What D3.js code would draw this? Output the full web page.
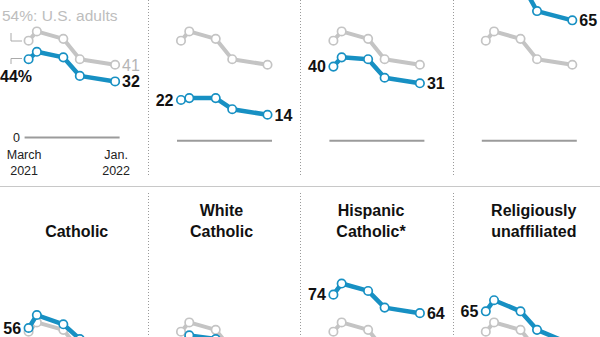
<!DOCTYPE html>
<html><head><meta charset="utf-8">
<script src="https://cdn.jsdelivr.net/npm/d3@7"></script>
<style>
body{margin:0;background:#fff;}
svg{display:block;font-family:"Liberation Sans",Arial,sans-serif;}
</style>
</head><body>
<svg id="chart" width="600" height="337"></svg>
<script>
// ---- data ----
const surveyDates = ["2021-03-05", "2021-04-04", "2021-07-09", "2021-09-07", "2022-01-13"];
const usAdults = [54, 59, 55, 44, 41];
const topSeries = [
  [44, 48, 45, 35, 32],
  [22, 23, 23, 17, 14],
  [40, 45, 44, 34, 31],
  [84, 88, 86, 70, 65]
];
const bottomTitles = [["Catholic"], ["White", "Catholic"], ["Hispanic", "Catholic*"], ["Religiously", "unaffiliated"]];
const bottomSeries = [
  [56, 63, 58, 50, 45],
  [48, 52, 50, 42, 37],
  [74, 80, 76, 67, 64],
  [65, 71, 65, 55, 47]
];
const xTickLabels = [["March", "2021"], ["Jan.", "2022"]];
const usLabel = "54%: U.S. adults";

// ---- layout ----
const W = 600, H = 337;
const BLUE = "#1790c3", GRAY = "#c4c4c4";
const colStep = 152.4, plotLeft = 28.6, plotSpan = 86.5;
const rowZero = [140.7, 431.7];
const pxPer100 = 185.2;
const titleCenters = [76.7, 221.5, 371, 533.8];

const svg = d3.select("#chart");
const parse = d3.timeParse("%Y-%m-%d");
const dates = surveyDates.map(parse);

// separators
svg.append("line").attr("x1", 0).attr("x2", W).attr("y1", 186.5).attr("y2", 186.5)
  .attr("stroke", "#c8c8c8").attr("stroke-width", 1);
for (let c = 0; c < 3; c++) {
  const sx = Math.round(plotLeft + c * colStep + 119.3) + 0.5;
  svg.append("line").attr("x1", sx).attr("x2", sx).attr("y1", 0).attr("y2", 176)
    .attr("stroke", "#9a9a9a").attr("stroke-width", 1).attr("stroke-dasharray", "1,2");
  svg.append("line").attr("x1", sx).attr("x2", sx).attr("y1", 193).attr("y2", H)
    .attr("stroke", "#9a9a9a").attr("stroke-width", 1).attr("stroke-dasharray", "1,2");
}

const visible = yy => yy > 8 && yy < H - 8;

function drawPanel(row, col, values, opts) {
  const L = plotLeft + col * colStep;
  const x = d3.scaleTime().domain([dates[0], dates[dates.length - 1]]).range([L, L + plotSpan]);
  const y = d3.scaleLinear().domain([0, 100]).range([rowZero[row], rowZero[row] - pxPer100]);
  const g = svg.append("g");

  // baseline
  const by = (row === 0 && col === 0) ? 137.5 : rowZero[row];
  g.append("line").attr("x1", L - 4).attr("x2", L + plotSpan + 4.5)
    .attr("y1", by).attr("y2", by).attr("stroke", "#9b9b9b").attr("stroke-width", 2);

  const line = d3.line().x((d, i) => x(dates[i])).y(d => y(d));

  const series = [{v: usAdults, c: GRAY, w: 4}, {v: values, c: BLUE, w: 4.5}];
  series.forEach(s => {
    g.append("path").datum(s.v).attr("d", line).attr("fill", "none")
      .attr("stroke", s.c).attr("stroke-width", s.w).attr("stroke-linejoin", "round");
    g.selectAll(null).data(s.v).join("circle")
      .attr("cx", (d, i) => x(dates[i])).attr("cy", d => y(d)).attr("r", 4.2)
      .attr("fill", "#fff").attr("stroke", s.c).attr("stroke-width", 1.7);
  });

  const n = values.length;
  if (opts.firstLabel && visible(y(values[0]))) {
    g.append("text").attr("x", x(dates[0]) - 7.5).attr("y", y(values[0])).attr("dy", "0.36em")
      .attr("text-anchor", "end").attr("font-size", 16).attr("font-weight", "bold").attr("fill", "#111")
      .text(values[0]);
  }
  if (visible(y(values[n - 1]))) {
    g.append("text").attr("x", x(dates[n - 1]) + 7).attr("y", y(values[n - 1])).attr("dy", "0.36em")
      .attr("text-anchor", "start").attr("font-size", 16).attr("font-weight", "bold").attr("fill", "#111")
      .text(values[n - 1]);
  }

  if (opts.title) {
    g.append("text").attr("x", titleCenters[col]).attr("y", 237)
      .attr("text-anchor", "middle").attr("font-size", 16).attr("font-weight", "bold").attr("fill", "#111")
      .selectAll("tspan").data(opts.title).join("tspan")
      .attr("x", titleCenters[col])
      .attr("dy", (d, i) => i === 0 ? (opts.title.length === 1 ? 0 : -20.6) : 20.6)
      .text(d => d);
  }

  if (opts.annotate) {
    g.append("text").attr("x", 2).attr("y", 20.5).attr("font-size", 15.5).attr("fill", "#bdbdbd").text(usLabel);
    g.append("path").attr("d", "M11,33V41H22").attr("fill", "none").attr("stroke", "#aaa").attr("stroke-width", 1);
    g.append("text").attr("x", x(dates[n - 1]) + 7).attr("y", y(usAdults[n - 1])).attr("dy", "0.36em")
      .attr("font-size", 16).attr("fill", "#b5b5b5").text(usAdults[n - 1]);
    g.append("text").attr("x", 0).attr("y", 81.5).attr("font-size", 16).attr("font-weight", "bold")
      .attr("fill", "#111").text(values[0] + "%");
    g.append("path").attr("d", "M22,58.5H11V64").attr("fill", "none").attr("stroke", "#aaa").attr("stroke-width", 1);
    g.append("text").attr("x", 20).attr("y", by).attr("dy", "0.36em").attr("text-anchor", "end")
      .attr("font-size", 12.5).attr("fill", "#222").text("0");
    const tl = [{t: xTickLabels[0], cx: x(dates[0]) - 4.5}, {t: xTickLabels[1], cx: x(dates[n - 1]) + 1}];
    tl.forEach(o => {
      g.append("text").attr("text-anchor", "middle").attr("font-size", 12.5).attr("fill", "#222")
        .selectAll("tspan").data(o.t).join("tspan")
        .attr("x", o.cx).attr("y", (d, i) => 158.5 + i * 16.7).text(d => d);
    });
  }
}

topSeries.forEach((v, c) => drawPanel(0, c, v, {firstLabel: c !== 0, annotate: c === 0}));
bottomSeries.forEach((v, c) => drawPanel(1, c, v, {firstLabel: true, title: bottomTitles[c]}));
</script>
</body></html>
